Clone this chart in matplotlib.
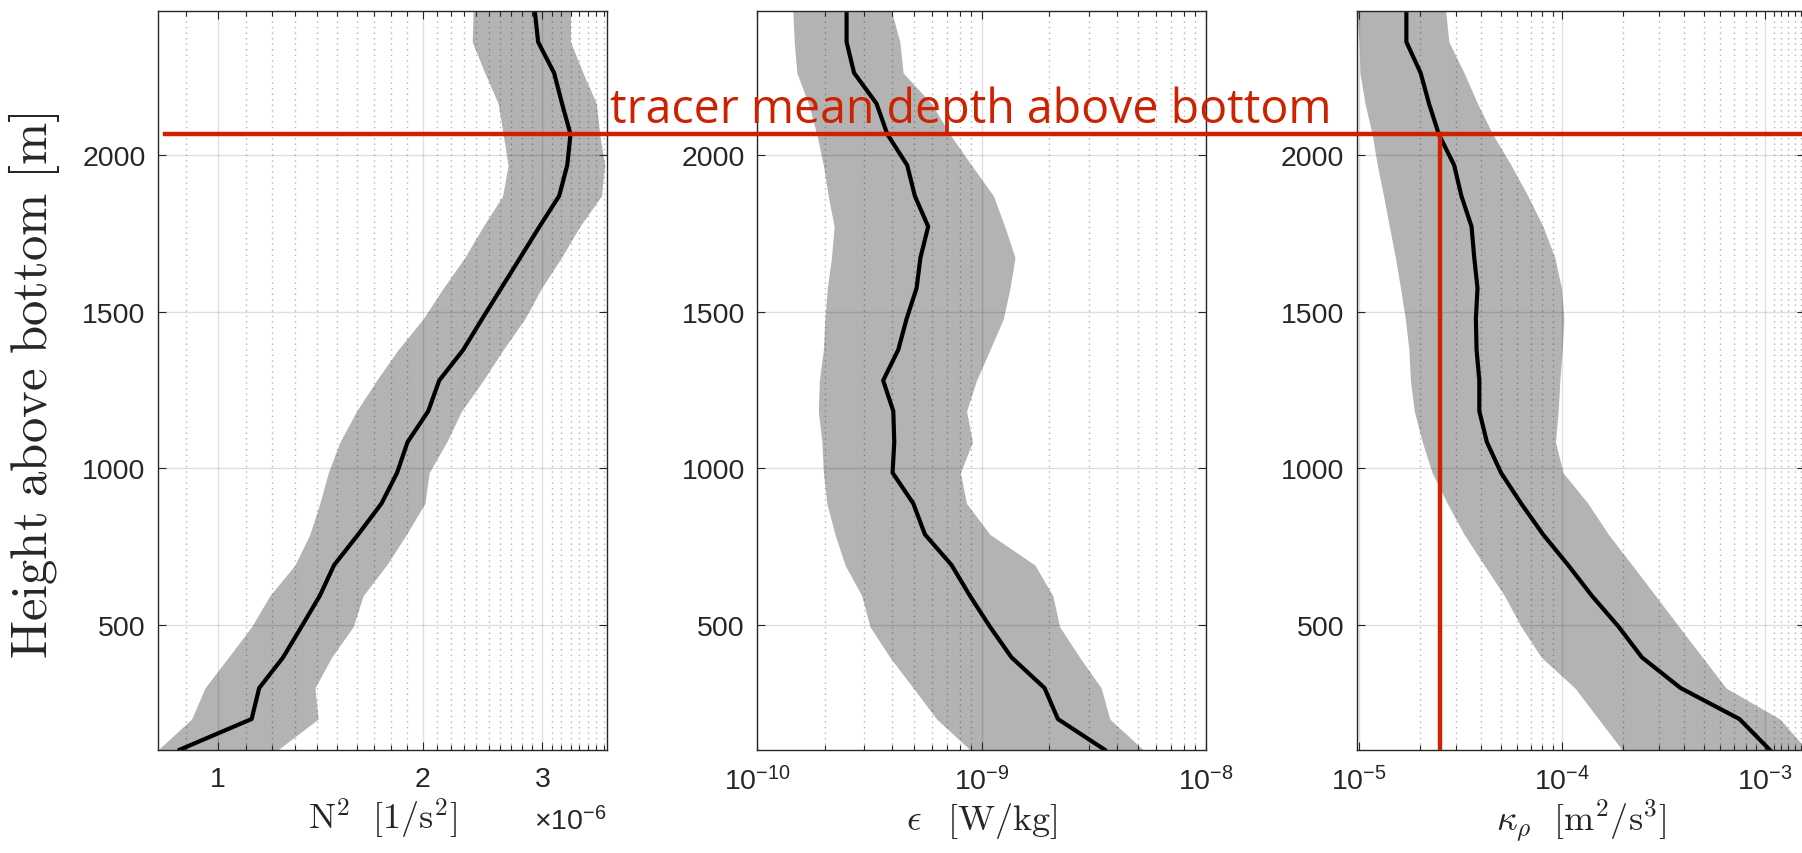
import numpy as np
import matplotlib
matplotlib.use('Agg')
import matplotlib.pyplot as plt
from matplotlib.lines import Line2D
from matplotlib.ticker import NullFormatter
from matplotlib.transforms import blended_transform_factory

# height above bottom [m]
heights = [100, 198, 297, 395, 493, 592, 690, 788, 887, 985, 1083, 1182, 1280,
           1378, 1477, 1575, 1673, 1772, 1870, 1968, 2067, 2165, 2263, 2362, 2460]

# N^2 in 1e-6 1/s^2
n2_mean = [0.880, 1.122, 1.151, 1.248, 1.328, 1.413, 1.483, 1.609, 1.741, 1.835, 1.901, 2.039, 2.116,
           2.295, 2.447, 2.610, 2.784, 2.971, 3.175, 3.263, 3.299, 3.206, 3.121, 2.957, 2.924]
n2_lo = [0.818, 0.916, 0.958, 1.037, 1.122, 1.193, 1.299, 1.366, 1.413, 1.454, 1.512, 1.600, 1.712,
         1.841, 2.004, 2.145, 2.307, 2.455, 2.622, 2.671, 2.627, 2.583, 2.469, 2.366, 2.373]
n2_hi = [1.227, 1.405, 1.390, 1.470, 1.582, 1.636, 1.771, 1.894, 2.016, 2.045, 2.170, 2.282, 2.455,
         2.627, 2.827, 2.991, 3.200, 3.404, 3.663, 3.704, 3.642, 3.602, 3.442, 3.299, 3.299]

# epsilon in 1e-10 W/kg
eps_mean = [35.4, 21.9, 19.1, 13.6, 10.9, 8.87, 7.35, 5.59, 4.96, 4.01, 4.08, 4.04, 3.64,
            4.25, 4.63, 5.13, 5.34, 5.78, 5.04, 4.66, 3.80, 3.40, 2.70, 2.50, 2.50]
eps_lo = [8.87, 6.30, 4.96, 3.90, 3.18, 2.92, 2.46, 2.22, 2.04, 1.97, 1.94, 1.87, 1.89,
          1.97, 2.00, 2.05, 2.14, 2.20, 2.07, 1.97, 1.84, 1.69, 1.50, 1.46, 1.44]
eps_hi = [52.5, 37.3, 34.2, 27.4, 22.3, 20.8, 17.3, 10.9, 8.57, 8.05, 9.11, 8.57, 9.49,
          10.9, 12.5, 13.4, 14.1, 12.7, 11.3, 9.02, 7.22, 5.98, 4.47, 4.32, 3.97]

# kappa_rho in 1e-5 m^2/s
kap_mean = [105, 74.6, 38.3, 24.7, 18.96, 14.0, 10.7, 8.05, 6.28, 5.00, 4.26, 3.91, 3.91,
            3.79, 3.76, 3.83, 3.69, 3.58, 3.19, 2.94, 2.47, 2.21, 2.01, 1.71, 1.71]
kap_lo = [19.7, 15.1, 11.56, 7.90, 6.28, 5.20, 4.13, 3.29, 2.72, 2.29, 2.05, 1.87, 1.79,
          1.76, 1.69, 1.60, 1.51, 1.41, 1.32, 1.23, 1.16, 1.07, 1.01, 1.00, 0.98]
kap_hi = [160, 118, 64.1, 49.1, 37.6, 28.8, 22.1, 16.9, 13.4, 10.1, 9.27, 9.56, 9.74,
          10.0, 10.2, 9.92, 9.20, 8.05, 6.78, 5.61, 4.55, 3.83, 3.29, 2.77, 2.67]

tracer_depth = 2067
kappa_tracer = 2.5e-5

red = '#cc2200'
gray = '#b3b3b3'
dark = '#262626'

plt.rcParams['font.family'] = ['Liberation Sans', 'DejaVu Sans']
plt.rcParams['mathtext.fontset'] = 'cm'

fig = plt.figure(figsize=(18.02, 8.54), dpi=100)
lefts = [0.0878, 0.4203, 0.7529]
aw, ab, ah = 0.2488, 0.121, 0.8646

panels = [
    (n2_mean, n2_lo, n2_hi, 1e-6, (0.818e-6, 3.727e-6),
     [1e-6, 2e-6, 3e-6], ['1', '2', '3'],
     [v * 1e-6 for v in np.arange(0.9, 3.75, 0.1) if abs(v - round(v)) > 0.01],
     r'$\mathrm{N}^2\ \ [1/\mathrm{s}^2]$'),
    (eps_mean, eps_lo, eps_hi, 1e-10, (1e-10, 1e-8),
     [1e-10, 1e-9, 1e-8],
     [r'$\mathregular{10^{-10}}$', r'$\mathregular{10^{-9}}$', r'$\mathregular{10^{-8}}$'],
     [m * 10.0 ** e for e in (-10, -9) for m in range(2, 10)],
     r'$\epsilon\ \ \,[\mathrm{W/kg}]$'),
    (kap_mean, kap_lo, kap_hi, 1e-5, (0.974e-5, 1.57e-3),
     [1e-5, 1e-4, 1e-3],
     [r'$\mathregular{10^{-5}}$', r'$\mathregular{10^{-4}}$', r'$\mathregular{10^{-3}}$'],
     [m * 10.0 ** e for e in (-5, -4) for m in range(2, 10)] + [1.1e-3, 1.2e-3, 1.3e-3, 1.4e-3, 1.5e-3],
     r'$\kappa_\rho\ \ [\mathrm{m}^2/\mathrm{s}^3]$'),
]

axes = []
for left, (mean, lo, hi, unit, xlim, majors, labels, minors, xlabel) in zip(lefts, panels):
    ax = fig.add_axes([left, ab, aw, ah])
    ax.fill_betweenx(heights, np.array(lo) * unit, np.array(hi) * unit,
                     color=gray, lw=0, zorder=1)
    ax.plot(np.array(mean) * unit, heights, color='k', lw=3, zorder=2)
    ax.set_xscale('log')
    ax.set_xlim(xlim)
    ax.set_ylim(100, 2460)
    ax.set_xticks(majors, labels)
    ax.set_xticks(minors, minor=True)
    ax.xaxis.set_minor_formatter(NullFormatter())
    ax.set_yticks([500, 1000, 1500, 2000])
    ax.set_axisbelow('line')
    ax.grid(True, which='major', color='k', alpha=0.13, lw=1)
    ax.grid(True, which='minor', axis='x', color='k', alpha=0.3, lw=1, ls=(0, (1, 3)))
    ax.tick_params(which='both', direction='in', top=True, right=True,
                   colors=dark, width=0.8, labelsize=20.5)
    ax.tick_params(which='major', length=6)
    ax.tick_params(which='minor', length=3.5)
    ax.tick_params(axis='x', pad=12)
    ax.tick_params(axis='y', pad=9)
    for s in ax.spines.values():
        s.set_color(dark)
        s.set_linewidth(1)
    ax.text(0.5, -0.1074, xlabel, transform=ax.transAxes, ha='center', va='baseline',
            fontsize=26, color=dark)
    axes.append(ax)

ax1, ax2, ax3 = axes
ax1.text(1.0, -0.1074, '×10$\\mathregular{^{-6}}$', transform=ax1.transAxes,
         ha='right', va='baseline', fontsize=20.5, color=dark)

fig.text(34 / 1802, 0.549, r'$\mathrm{Height\ above\ bottom\ [m]}$', rotation=90,
         ha='center', va='center', fontsize=36.5, color=dark)

# tracer mean depth marker
ax3.plot([kappa_tracer, kappa_tracer], [100, tracer_depth], color=red, lw=3.2, zorder=3)
tr = blended_transform_factory(fig.transFigure, ax1.transData)
fig.add_artist(Line2D([165 / 1802, 1.0], [tracer_depth, tracer_depth], transform=tr,
                      color=red, lw=3.2, zorder=5))
fig.text(610 / 1802, 1 - 123 / 854, 'tracer mean depth above bottom', family='Open Sans',
         fontsize=33.5, color=red, ha='left', va='baseline', zorder=6)

fig.savefig('out.png', dpi=100)
